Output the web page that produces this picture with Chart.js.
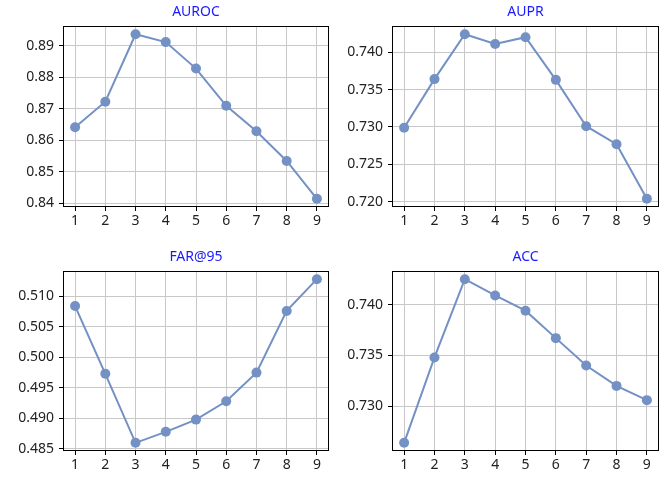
<!DOCTYPE html>
<html>
<head>
<meta charset="utf-8">
<script src="https://cdn.jsdelivr.net/npm/chart.js@4.4.0/dist/chart.umd.min.js"></script>
<style>
  html, body { margin: 0; padding: 0; background: #fff; }
  #wrap { position: relative; width: 668px; height: 478px; }
  canvas { position: absolute; }
</style>
</head>
<body>
<div id="wrap">
  <canvas id="c1" width="334" height="239" style="left:0;top:0"></canvas>
  <canvas id="c2" width="334" height="239" style="left:334px;top:0"></canvas>
  <canvas id="c3" width="334" height="239" style="left:0;top:239px"></canvas>
  <canvas id="c4" width="334" height="239" style="left:334px;top:239px"></canvas>
</div>
<script>
// Dados
const xTicks = [1, 2, 3, 4, 5, 6, 7, 8, 9];

const aurocValues = [0.8642, 0.8723, 0.8937, 0.8912, 0.8828, 0.8710, 0.8629, 0.8535, 0.8415];
const auprValues  = [0.7299, 0.7364, 0.7424, 0.7411, 0.7420, 0.7363, 0.7301, 0.7277, 0.7204];
const farValues   = [0.5084, 0.4973, 0.4860, 0.4878, 0.4898, 0.4928, 0.4975, 0.5076, 0.5128];
const accValues   = [0.7264, 0.7348, 0.7425, 0.7409, 0.7394, 0.7367, 0.7340, 0.7320, 0.7306];

const aurocTicks = [0.84, 0.85, 0.86, 0.87, 0.88, 0.89];
const auprTicks  = [0.720, 0.725, 0.730, 0.735, 0.740];
const farTicks   = [0.485, 0.490, 0.495, 0.500, 0.505, 0.510];
const accTicks   = [0.730, 0.735, 0.740];

const COR_LINHA = '#7391c4';
const FONTE = "'Noto Sans', 'DejaVu Sans', sans-serif";

// moldura preta + título azul
const molduraPlugin = {
  id: 'moldura',
  afterDraw(chart, args, opts) {
    const { ctx, chartArea: a } = chart;
    ctx.save();
    ctx.strokeStyle = '#000';
    ctx.lineWidth = 1;
    ctx.strokeRect(Math.round(a.left) + 0.5, Math.round(a.top) + 0.5,
      Math.round(a.right - a.left) - 1, Math.round(a.bottom - a.top) - 1);
    ctx.fillStyle = '#1a1aff';
    ctx.font = '14px ' + FONTE;
    ctx.textAlign = 'center';
    ctx.textBaseline = 'middle';
    ctx.fillText(opts.titulo, (a.left + a.right) / 2, a.top - 14);
    ctx.restore();
  }
};

// limites com margem de 5% (como o matplotlib)
function limites(vals) {
  const mn = Math.min(...vals), mx = Math.max(...vals);
  const m = (mx - mn) * 0.05;
  return [mn - m, mx + m];
}

function desenhar(id, titulo, valores, ticksY, casas, lay) {
  const [ymin, ymax] = limites(valores);
  const ctx = document.getElementById(id).getContext('2d');
  new Chart(ctx, {
    type: 'line',
    data: {
      datasets: [{
        data: valores.map((v, i) => ({ x: xTicks[i], y: v })),
        borderColor: COR_LINHA,
        backgroundColor: COR_LINHA,
        borderWidth: 2,
        pointRadius: 5,
        pointHoverRadius: 5,
        pointBorderWidth: 0,
        tension: 0
      }]
    },
    options: {
      responsive: false,
      animation: false,
      layout: { padding: { left: 0, right: lay.padRight, top: lay.padTop, bottom: 0 } },
      plugins: {
        legend: { display: false },
        tooltip: { enabled: false },
        moldura: { titulo }
      },
      scales: {
        x: {
          type: 'linear',
          min: 0.6,
          max: 9.4,
          afterBuildTicks: s => { s.ticks = xTicks.map(v => ({ value: v })); },
          afterFit: s => { s.height = lay.xHeight; },
          grid: { color: '#c8c8c8', lineWidth: 1, tickColor: '#000', tickLength: 4 },
          border: { display: false },
          ticks: { color: '#222', padding: 2, font: { family: FONTE, size: 14 }, callback: v => String(v) }
        },
        y: {
          min: ymin,
          max: ymax,
          afterBuildTicks: s => { s.ticks = ticksY.map(v => ({ value: v })); },
          afterFit: s => { s.width = lay.yWidth; },
          grid: { color: '#c8c8c8', lineWidth: 1, tickColor: '#000', tickLength: 4 },
          border: { display: false },
          ticks: { color: '#222', padding: 5, font: { family: FONTE, size: 14 }, callback: v => Number(v).toFixed(casas) }
        }
      }
    },
    plugins: [molduraPlugin]
  });
}

desenhar('c1', 'AUROC', aurocValues, aurocTicks, 2, { yWidth: 63, padRight: 5, padTop: 26, xHeight: 32 });
desenhar('c2', 'AUPR', auprValues, auprTicks, 3, { yWidth: 58, padRight: 9, padTop: 26, xHeight: 32 });
desenhar('c3', 'FAR@95', farValues, farTicks, 3, { yWidth: 63, padRight: 5, padTop: 32, xHeight: 27 });
desenhar('c4', 'ACC', accValues, accTicks, 3, { yWidth: 58, padRight: 9, padTop: 32, xHeight: 27 });
</script>
</body>
</html>
